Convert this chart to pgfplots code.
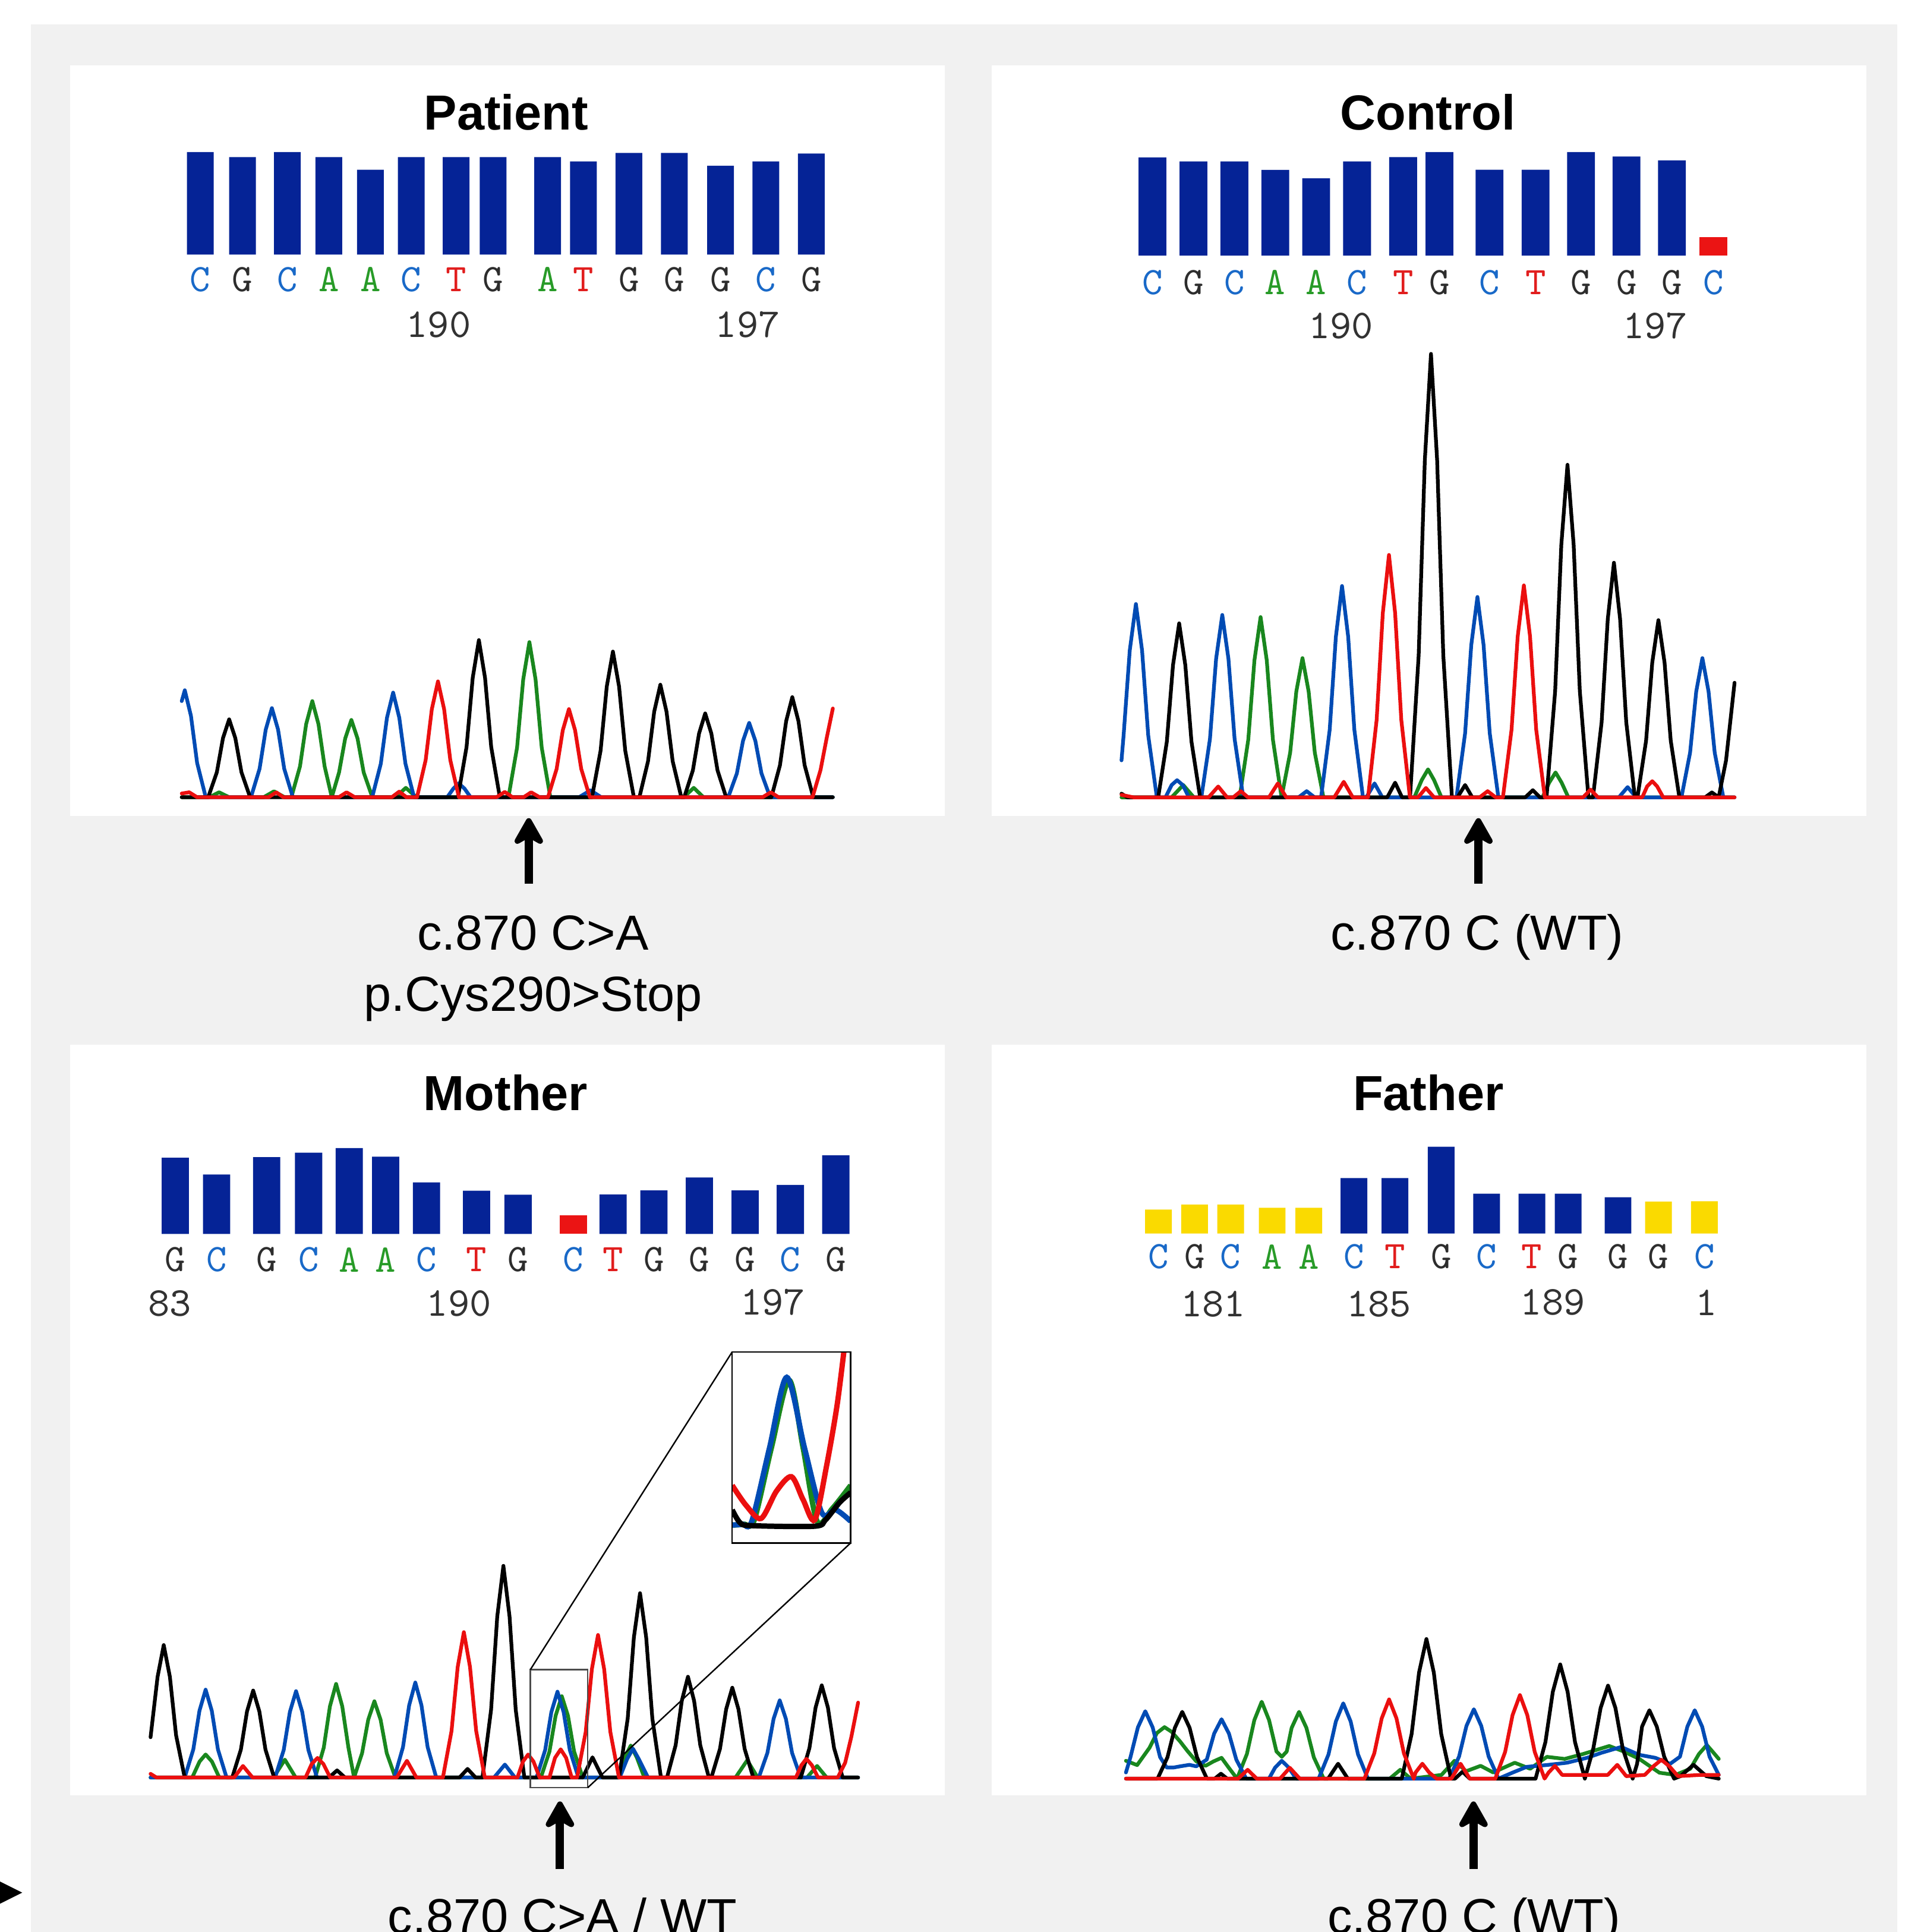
\documentclass[border=0pt]{standalone}
\usepackage{pgfplots}
\pgfplotsset{compat=1.18}
\usepackage{fontspec}
\setmainfont{Liberation Sans}
\usetikzlibrary{arrows.meta}

\definecolor{bggray}{RGB}{241,241,241}
\definecolor{barblue}{RGB}{5,35,150}
\definecolor{barred}{RGB}{235,20,20}
\definecolor{baryel}{RGB}{250,218,0}
\definecolor{trblue}{RGB}{0,75,180}
\definecolor{trgreen}{RGB}{25,135,30}
\definecolor{trred}{RGB}{235,15,15}
\definecolor{lC}{RGB}{25,105,200}
\definecolor{lG}{RGB}{45,45,45}
\definecolor{lA}{RGB}{40,155,40}
\definecolor{lT}{RGB}{225,30,30}
\definecolor{numgray}{RGB}{50,50,50}

\pgfplotsset{
  barax/.style={hide axis, x=0.3pt, y=0.3pt, anchor=south west, clip=false, ymin=0, ymax=100},
  trax/.style={hide axis, x=0.3pt, y=0.3pt, anchor=south west, clip=false, ymin=0, ymax=400},
  bars/.style={ybar, bar shift=0pt, draw=none, fill=#1},
  tB/.style={draw=trblue, line width=0.9pt, line join=round, line cap=round, mark=none},
  tG/.style={draw=trgreen, line width=0.9pt, line join=round, line cap=round, mark=none},
  tK/.style={draw=black, line width=0.9pt, line join=round, line cap=round, mark=none},
  tR/.style={draw=trred, line width=0.9pt, line join=round, line cap=round, mark=none},
}

\begin{document}
\begin{tikzpicture}
\useasboundingbox (0,0) rectangle (463.8pt,-470.4pt);
\clip (0,0) rectangle (463.8pt,-470.4pt);

\begin{scope}[x=0.3pt,y=-0.3pt]
\fill[white] (0,0) rectangle (1546,1568);
\fill[bggray] (25,20) rectangle (1540,1600);
\fill[white] (57,53) rectangle (767,662);
\fill[white] (805,53) rectangle (1515,662);
\fill[white] (57,848) rectangle (767,1457);
\fill[white] (805,848) rectangle (1515,1457);
\fill[black] (0,1527) -- (18,1536) -- (0,1545) -- cycle;
\end{scope}

% ---------------- Patient ----------------
\begin{axis}[barax, at={(57*0.3pt,-206.6*0.3pt)}, xmin=57, xmax=767, bar width=21.7]
\addplot[bars=barblue] coordinates {(162.6,83.2) (196.8,79.1) (233.2,83.2) (266.9,79.1) (300.6,68.8) (333.8,79.1) (370.2,79.1) (400.2,79.1) (444.5,79.1) (473.6,75.6) (510.4,82.5) (547.4,82.5) (584.8,72.1) (621.6,75.6) (658.5,82.0)};
\end{axis}
\begin{axis}[trax, at={(57*0.3pt,-647.0*0.3pt)}, xmin=57, xmax=767]
\addplot[tG] coordinates {(147.5,0) (170,0) (177.8,4) (186,0) (214,0) (222.4,4.8) (231,0) (236.5,0) (243.5,25) (248.5,59.3) (253.5,78) (258.5,59.3) (263.5,25) (269.3,0) (275.2,20.1) (280.2,47.7) (285.2,62.7) (290.2,47.7) (295.2,20.1) (302.2,0) (321,0) (329.4,7.6) (338,0) (412.7,0) (419.7,40.3) (424.7,95.7) (429.7,125.9) (434.7,95.7) (439.7,40.3) (446.7,0) (555,0) (563.1,7.6) (571,0) (676,0)};
\addplot[tB] coordinates {(147.5,78) (150,86.8) (155,66) (160,27.8) (167,0) (203.7,0) (210.7,23.1) (215.7,54.9) (220.7,72.3) (225.7,54.9) (230.7,23.1) (237.7,0) (302.1,0) (309.1,27.2) (314.1,64.5) (319.1,84.9) (324.1,64.5) (329.1,27.2) (336.1,0) (363,0) (368,7) (372.3,11.3) (377,7) (382,0) (470,0) (479.3,5.6) (488,0) (591.1,0) (598.1,19.3) (603.1,45.8) (608.1,60.3) (613.1,45.8) (618.1,19.3) (625.1,0) (676,0)};
\addplot[tK] coordinates {(147.5,0) (169,0) (176,20.2) (181,48) (186,63.2) (191,48) (196,20.2) (203,0) (371.7,0) (378.7,40.8) (383.7,96.9) (388.7,127.5) (393.7,96.9) (398.7,40.8) (405.7,0) (480.5,0) (487.5,37.8) (492.5,89.8) (497.5,118.2) (502.5,89.8) (507.5,37.8) (514.5,0) (519,0) (526,29.2) (531,69.4) (536,91.3) (541,69.4) (546,29.2) (553,0) (555.4,0) (562.4,21.8) (567.4,51.7) (572.4,68) (577.4,51.7) (582.4,21.8) (589.4,0) (626.1,0) (633.1,26) (638.1,61.7) (643.1,81.2) (648.1,61.7) (653.1,26) (660.1,0) (676,0)};
\addplot[tR] coordinates {(147.5,3) (153.6,4) (160,0) (218,0) (224.2,4) (230,0) (275,0) (281.3,4) (288,0) (318,0) (324,4.5) (330,0) (338.5,0) (345.5,30.1) (350.5,71.4) (355.5,94) (360.5,71.4) (365.5,30.1) (372.5,0) (403,0) (409.7,4.3) (416,0) (425,0) (431.1,4) (438,0) (444.8,0) (451.8,22.9) (456.8,54.3) (461.8,71.5) (466.8,54.3) (471.8,22.9) (478.8,0) (619,0) (625.6,4) (632,0) (659.5,0) (666,22) (671,48) (676,72)};
\end{axis}

% ---------------- Control ----------------
\begin{axis}[barax, at={(805*0.3pt,-207.4*0.3pt)}, xmin=805, xmax=1515, bar width=22.6]
\addplot[bars=barblue] coordinates {(935.4,79.6) (968.7,76.4) (1001.9,76.4) (1035.1,69.5) (1068.3,62.7) (1101.5,76.4) (1138.9,79.9) (1168.4,84.0) (1209.0,69.6) (1246.4,69.6) (1283.3,84.0) (1320.2,80.4) (1357.1,77.2)};
\addplot[bars=barred] coordinates {(1390.8,14.8)};
\end{axis}
\begin{axis}[trax, at={(805*0.3pt,-647.1*0.3pt)}, xmin=805, xmax=1515]
\addplot[tG] coordinates {(910.3,0) (951,0) (960.4,10) (969,0) (1006.2,0) (1013.2,46.8) (1018.2,111.2) (1023.2,146.3) (1028.2,111.2) (1033.2,46.8) (1040.2,0) (1047.2,36.2) (1052.2,85.9) (1057.2,113) (1062.2,85.9) (1067.2,36.2) (1074.2,0) (1148,0) (1154,14) (1159.1,22.7) (1164,14) (1170,0) (1252,0) (1257.5,12) (1262.6,20.2) (1267.5,12) (1273,0) (1407.9,0)};
\addplot[tB] coordinates {(910.3,30) (912,50.2) (917,119.2) (922,156.9) (927,119.2) (932,50.2) (939,0) (946,0) (951,10) (955.4,13.9) (960,10) (965,0) (975.1,0) (982.1,47.4) (987.1,112.5) (992.1,148) (997.1,112.5) (1002.1,47.4) (1009.1,0) (1054,0) (1060.6,5) (1067,0) (1072.3,0) (1079.3,54.9) (1084.3,130.3) (1089.3,171.5) (1094.3,130.3) (1099.3,54.9) (1106.3,0) (1109,0) (1115.7,11.3) (1122,0) (1182.2,0) (1189.2,52) (1194.2,123.6) (1199.2,162.6) (1204.2,123.6) (1209.2,52) (1216.2,0) (1314,0) (1321.1,8.3) (1328,0) (1364.8,0) (1371.8,36.2) (1376.8,85.9) (1381.8,113) (1386.8,85.9) (1391.8,36.2) (1398.8,0) (1407.9,0)};
\addplot[tK] coordinates {(910.3,3) (915,0) (940.1,0) (947.1,45.2) (952.1,107.3) (957.1,141.2) (962.1,107.3) (967.1,45.2) (974.1,0) (1126,0) (1132.4,11.9) (1138,0) (1144.5,0) (1151.5,115.2) (1156.5,273.5) (1161.5,359.9) (1166.5,273.5) (1171.5,115.2) (1178.5,0) (1183,0) (1189.2,10) (1195,0) (1238,0) (1244.2,5.8) (1250,0) (1255.3,0) (1262.3,86.4) (1267.3,205.1) (1272.3,269.9) (1277.3,205.1) (1282.3,86.4) (1289.3,0) (1293,0) (1300,60.9) (1305,144.7) (1310,190.4) (1315,144.7) (1320,60.9) (1327,0) (1329.1,0) (1336.1,46) (1341.1,109.3) (1346.1,143.8) (1351.1,109.3) (1356.1,46) (1363.1,0) (1384,0) (1389.5,4) (1395,0) (1401,30) (1407.9,93)};
\addplot[tR] coordinates {(910.3,2) (920,0) (981,0) (988.8,8.8) (996,0) (1001,0) (1007.1,5) (1013,0) (1030,0) (1037.2,11.3) (1044,0) (1083,0) (1090.7,12.6) (1098,0) (1110.4,0) (1117.4,62.9) (1122.4,149.5) (1127.4,196.7) (1132.4,149.5) (1137.4,62.9) (1144.4,0) (1151,0) (1157.4,7.6) (1164,0) (1201,0) (1207.5,5) (1214,0) (1219.9,0) (1226.9,55) (1231.9,130.7) (1236.9,172) (1241.9,130.7) (1246.9,55) (1253.9,0) (1285,0) (1291,6.3) (1297,0) (1333,0) (1337,9) (1341.1,13.1) (1345,9) (1350,0) (1407.9,0)};
\end{axis}

% ---------------- Mother ----------------
\begin{axis}[barax, at={(57*0.3pt,-1001.4*0.3pt)}, xmin=57, xmax=767, bar width=22.1]
\addplot[bars=barblue] coordinates {(142.3,61.8) (175.8,48.2) (216.4,62.3) (250.5,65.9) (283.5,69.7) (313.0,62.6) (346.2,41.8) (386.8,35.0) (420.5,31.8) (497.6,32.0) (530.8,35.3) (567.7,45.8) (604.8,35.3) (641.5,39.7) (678.4,63.8)};
\addplot[bars=barred] coordinates {(465.3,14.9)};
\end{axis}
\begin{axis}[trax, at={(57*0.3pt,-1442.6*0.3pt)}, xmin=57, xmax=767]
\addplot[tG] coordinates {(122.2,0) (156,0) (162,13) (166.9,18.7) (172,13) (178,0) (222,0) (231.2,14.5) (240,0) (255.8,0) (262.8,24.3) (267.8,57.8) (272.8,76) (277.8,57.8) (282.8,24.3) (287.4,0) (293.9,19.8) (298.9,47) (303.9,61.9) (308.9,47) (313.9,19.8) (320.9,0) (439,0) (446,21.1) (451,50.2) (456,66) (461,50.2) (466,21.1) (473,0) (502,0) (507,16) (512,26) (517,16) (523,0) (597,0) (606.5,14) (615,0) (655,0) (663.2,9.4) (671,0) (696.5,0)};
\addplot[tB] coordinates {(122.2,0) (149.9,0) (156.9,22.8) (161.9,54.2) (166.9,71.3) (171.9,54.2) (176.9,22.8) (183.9,0) (223.3,0) (230.3,22.4) (235.3,53.3) (240.3,70.1) (245.3,53.3) (250.3,22.4) (257.3,0) (320.1,0) (327.1,24.7) (332.1,58.6) (337.1,77.1) (342.1,58.6) (347.1,24.7) (354.1,0) (401,0) (409.8,10.5) (418,0) (435.5,0) (442.5,22.3) (447.5,53) (452.5,69.7) (457.5,53) (462.5,22.3) (469.5,0) (503,0) (509,15) (513.8,23.4) (518.5,15) (526,0) (615.9,0) (622.9,20) (627.9,47.6) (632.9,62.6) (637.9,47.6) (642.9,20) (649.9,0) (696.5,0)};
\addplot[tK] coordinates {(122.2,32.7) (127.9,81.7) (132.9,107.5) (137.9,81.7) (142.9,34.4) (149.9,0) (188.5,0) (195.5,22.6) (200.5,53.7) (205.5,70.6) (210.5,53.7) (215.5,22.6) (222.5,0) (267,0) (273.6,5.8) (280,0) (373,0) (379.5,7) (386,0) (391.6,0) (398.6,55) (403.6,130.6) (408.6,171.8) (413.6,130.6) (418.6,55) (425.6,0) (473,0) (480.9,16.4) (489,0) (502.5,0) (509.5,47.9) (514.5,113.7) (519.5,149.6) (524.5,113.7) (529.5,47.9) (536.5,0) (541.4,0) (548.4,26.2) (553.4,62.2) (558.4,81.8) (563.4,62.2) (568.4,26.2) (575.4,0) (577.4,0) (584.4,23.3) (589.4,55.4) (594.4,72.9) (599.4,55.4) (604.4,23.3) (611.4,0) (650,0) (657,23.9) (662,56.8) (667,74.8) (672,56.8) (677,23.9) (684,0) (696.5,0)};
\addplot[tR] coordinates {(122.2,3) (127,0) (190,0) (197.2,9.4) (205,0) (248,0) (253,11) (257.7,15.9) (262.5,11) (268,0) (322,0) (330.3,13.6) (338,0) (359.5,0) (366.5,37.8) (371.5,89.7) (376.5,118) (381.5,89.7) (386.5,37.8) (393.5,0) (420,0) (424.5,13) (428.7,18.7) (433,13) (438,0) (446,0) (450.5,16) (455.1,22.9) (459.5,16) (464,0) (468.4,0) (475.4,37) (480.4,87.9) (485.4,115.7) (490.4,87.9) (495.4,37) (502.4,0) (646,0) (650.5,10) (654.5,15.2) (659,10) (664,0) (680,0) (686,12) (691,33) (696.5,60.8)};
\end{axis}

% inset of the mother trace
\begin{scope}[x=0.3pt,y=-0.3pt]
\fill[white] (594.3,1097.2) rectangle (690.5,1252.2);
\end{scope}
\begin{axis}[hide axis, x=0.11362pt, y=0.070136pt, anchor=south west, at={(594.3*0.3pt,-1252.2*0.3pt)}, xmin=0, xmax=254, ymin=0, ymax=663, clip=true]
\addplot[draw=trgreen, line width=1.3pt, smooth, tension=0.5] coordinates {(0,62) (25,65) (47,78) (84,330) (122,565) (152,330) (182,75) (215,120) (254,200)};
\addplot[draw=trblue, line width=1.3pt, smooth, tension=0.5] coordinates {(0,62) (22,65) (42,75) (80,330) (117,575) (155,330) (192,105) (222,115) (254,75)};
\addplot[draw=black, line width=1.3pt, smooth, tension=0.5] coordinates {(0,115) (17,70) (42,60) (177,58) (200,80) (230,140) (254,175)};
\addplot[draw=trred, line width=1.3pt, smooth, tension=0.5] coordinates {(0,200) (30,130) (62,85) (95,180) (127,230) (152,150) (177,80) (202,265) (225,480) (242,700)};
\end{axis}

% ---------------- Father ----------------
\begin{axis}[barax, at={(805*0.3pt,-1001.1*0.3pt)}, xmin=805, xmax=1515, bar width=21.7]
\addplot[bars=baryel] coordinates {(940.3,19.4) (969.6,23.5) (998.9,23.5) (1032.6,20.9) (1062.3,20.9) (1346.2,25.9) (1383.4,26.2)};
\addplot[bars=barblue] coordinates {(1099.0,45.0) (1132.2,45.0) (1169.8,70.4) (1206.7,32.3) (1243.4,32.3) (1272.9,32.3) (1313.3,29.4)};
\end{axis}
\begin{axis}[trax, at={(805*0.3pt,-1443.5*0.3pt)}, xmin=805, xmax=1515]
\addplot[tG] coordinates {(913.9,14.5) (923,11) (933,25) (939,37) (945.2,41.8) (951,38) (958,30) (963.8,22.5) (971,14) (978.5,10.4) (985,14) (991.5,16.9) (998,8) (1004.1,0) (1012.1,20) (1018.1,47.4) (1024.1,62.4) (1030.1,47.4) (1036.1,22) (1040.4,17.7) (1044.4,22) (1048.4,41.2) (1054.4,54.2) (1060.4,41.2) (1066.4,17.3) (1074.4,0) (1128,0) (1136.6,7.2) (1145,0) (1170,3) (1180.6,14.5) (1190,6) (1201.8,10.4) (1212,5) (1229.5,12.9) (1242,8) (1255.6,17.7) (1270,16) (1285,20) (1306.2,26.5) (1318,22) (1330.6,16) (1346.9,4.8) (1359.9,3) (1372,8) (1379,20) (1385.4,27.3) (1390,22) (1395.1,16)};
\addplot[tB] coordinates {(913.9,5) (917.6,17.5) (923.6,41.6) (929.6,54.7) (935.6,41.6) (941.6,17.5) (947,9) (952.4,9) (958,10) (965.4,11.2) (971,10) (979.5,15.4) (985.5,36.6) (991.5,48.2) (997.5,36.6) (1003.5,15.4) (1011.5,0) (1030,0) (1035,9) (1040.4,14.5) (1046,9) (1052,0) (1070.3,0) (1078.3,19.6) (1084.3,46.4) (1090.3,61.1) (1096.3,46.4) (1102.3,19.6) (1110.3,0) (1176.3,0) (1184.3,18) (1190.3,42.8) (1196.3,56.3) (1202.3,42.8) (1208.3,18) (1216.3,0) (1228,5) (1239.3,9.6) (1255,11) (1271.9,12.9) (1288.2,16.9) (1300,21) (1315.9,25.7) (1330.6,19.3) (1343.6,16.9) (1355.6,12) (1363.6,17.8) (1369.6,42.2) (1375.6,55.5) (1381.6,42.2) (1387.6,17.8) (1395.1,3)};
\addplot[tK] coordinates {(913.9,0) (939.6,0) (947.6,17.3) (953.6,41.2) (959.6,54.2) (965.6,41.2) (971.6,17.3) (979.6,0) (986,0) (991,4) (996,0) (1078,0) (1086.1,12.1) (1094,0) (1137.8,0) (1145.8,36.3) (1151.8,86.1) (1157.8,113.3) (1163.8,86.1) (1169.8,36.3) (1177.8,0) (1181,0) (1187.1,5.6) (1193,0) (1246.4,0) (1254.4,29.7) (1260.4,70.5) (1266.4,92.7) (1272.4,70.5) (1278.4,29.7) (1286.4,0) (1293.2,24.2) (1299.2,57.4) (1305.2,75.5) (1311.2,57.4) (1317.2,24.2) (1325.2,0) (1328.8,12) (1332.8,42.2) (1338.8,55.5) (1344.8,42.2) (1350.8,17.8) (1358.8,0) (1364,2) (1374.6,11.2) (1385,2) (1395.1,0)};
\addplot[tR] coordinates {(913.9,0) (1005,0) (1012.7,7.2) (1020,0) (1039,0) (1046.9,8.8) (1055,0) (1107.5,0) (1115.5,20.6) (1121.5,48.9) (1127.5,64.3) (1133.5,48.9) (1139.5,20.6) (1147.5,0) (1149,5) (1154.5,12.1) (1160,5) (1166,0) (1178,0) (1185.5,12.1) (1193,0) (1213.7,0) (1221.7,21.7) (1227.7,51.5) (1233.7,67.8) (1239.7,51.5) (1245.7,21.7) (1253.7,0) (1257,5) (1262.1,10.4) (1268,3) (1305,3) (1312.7,11.2) (1320,2) (1335,3) (1342,10) (1348.5,15.3) (1355,10) (1362,2) (1380,3) (1395.1,3)};
\end{axis}

% ---------------- texts, arrows ----------------
\begin{scope}[x=0.3pt,y=-0.3pt,
  lt/.style={font=\ttfamily\fontsize{9.5}{9.5}\selectfont, anchor=center, inner sep=0pt},
  nm/.style={font=\ttfamily\fontsize{10}{10}\selectfont, anchor=center, inner sep=0pt, text=numgray},
  ttl/.style={font=\bfseries\fontsize{12}{12}\selectfont, anchor=base, inner sep=0pt},
  lab/.style={font=\fontsize{12}{12}\selectfont, anchor=base, inner sep=0pt},
  arr/.style={line width=2pt, -{Stealth[length=8pt,width=9pt,inset=2.5pt,round]}}]
% inset frame and zoom lines
\draw[line width=0.35pt] (594.3,1097.2) rectangle (690.5,1252.2);
\draw[line width=0.35pt, black!70] (430.5,1355) rectangle (477.1,1450.8);
\draw[line width=0.35pt] (430.5,1355) -- (594.3,1097.2);
\draw[line width=0.35pt] (477.1,1450.8) -- (690.5,1252.2);

\node[ttl] at (410.9,105.3) {Patient};
\node[ttl] at (1159,105.3) {Control};
\node[ttl] at (410.4,901) {Mother};
\node[ttl] at (1159.4,901) {Father};

\foreach \x/\c/\l in {162.6/lC/C,196.8/lG/G,233.2/lC/C,266.9/lA/A,300.6/lA/A,333.8/lC/C,370.2/lT/T,400.2/lG/G,444.5/lA/A,473.6/lT/T,510.4/lG/G,547.4/lG/G,584.8/lG/G,621.6/lC/C,658.5/lG/G}
  \node[lt,text=\c] at (\x,226.7) {\l};
\foreach \x/\c/\l in {935.4/lC/C,968.7/lG/G,1001.9/lC/C,1035.1/lA/A,1068.3/lA/A,1101.5/lC/C,1138.9/lT/T,1168.4/lG/G,1209.0/lC/C,1246.4/lT/T,1283.3/lG/G,1320.2/lG/G,1357.1/lG/G,1390.8/lC/C}
  \node[lt,text=\c] at (\x,229.1) {\l};
\foreach \x/\c/\l in {142.3/lG/G,175.8/lC/C,216.4/lG/G,250.5/lC/C,283.5/lA/A,313.0/lA/A,346.2/lC/C,386.8/lT/T,420.5/lG/G,465.3/lC/C,497.6/lT/T,530.8/lG/G,567.7/lG/G,604.8/lG/G,641.5/lC/C,678.4/lG/G}
  \node[lt,text=\c] at (\x,1022.3) {\l};
\foreach \x/\c/\l in {940.3/lC/C,969.6/lG/G,998.9/lC/C,1032.6/lA/A,1062.3/lA/A,1099.0/lC/C,1132.2/lT/T,1169.8/lG/G,1206.7/lC/C,1243.4/lT/T,1272.9/lG/G,1313.3/lG/G,1346.2/lG/G,1383.4/lC/C}
  \node[lt,text=\c] at (\x,1019.9) {\l};

\node[nm] at (355.9,263.6) {190};
\node[nm] at (606.9,263.6) {197};
\node[nm] at (1088.4,264.4) {190};
\node[nm] at (1343.5,264.4) {197};
\node[nm] at (137.7,1057.7) {83};
\node[nm] at (372.5,1057.7) {190};
\node[nm] at (627.2,1057) {197};
\node[nm] at (984.6,1058.5) {181};
\node[nm] at (1119.3,1058.5) {185};
\node[nm] at (1260.4,1057) {189};
\node[nm] at (1385.0,1057) {1};

\draw[arr] (429.2,717) -- (429.2,664);
\draw[arr] (1200,717) -- (1200,664);
\draw[arr] (454.5,1517) -- (454.5,1462);
\draw[arr] (1196,1517) -- (1196,1462);

\node[lab] at (432.6,770.8) {c.870 C>A};
\node[lab] at (432.6,820.6) {p.Cys290>Stop};
\node[lab] at (1199,771) {c.870 C (WT)};
\node[lab] at (456.5,1569) {c.870 C>A / WT};
\node[lab] at (1196.5,1569) {c.870 C (WT)};
\end{scope}
\end{tikzpicture}
\end{document}
